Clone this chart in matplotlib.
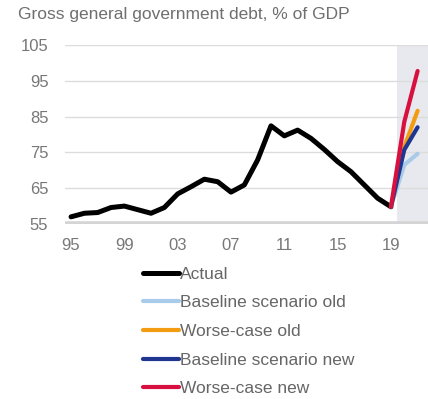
import numpy as np
import matplotlib
matplotlib.use('Agg')
import matplotlib.pyplot as plt

plt.rcParams['font.family'] = ['Liberation Sans', 'DejaVu Sans']

years_actual = [1995, 1996, 1997, 1998, 1999, 2000, 2001, 2002, 2003, 2004, 2005, 2006, 2007,
                2008, 2009, 2010, 2011, 2012, 2013, 2014, 2015, 2016, 2017, 2018, 2019]
debt_actual = [57.0, 58.0, 58.2, 59.6, 60.0, 59.0, 58.0, 59.6, 63.4, 65.4, 67.5, 66.8, 63.9,
               65.9, 72.9, 82.4, 79.6, 81.2, 78.9, 75.8, 72.4, 69.6, 65.9, 62.2, 59.8]

years_proj = [2019, 2020, 2021]
baseline_old = [59.8, 71.5, 74.6]
worse_old = [59.8, 76.5, 86.6]
baseline_new = [59.8, 75.7, 82.0]
worse_new = [59.8, 83.5, 97.7]

tick_years = [1995, 1999, 2003, 2007, 2011, 2015, 2019]
tick_labels = ['95', '99', '03', '07', '11', '15', '19']
y_ticks = [55, 65, 75, 85, 95, 105]

gray_txt = '#777777'

fig = plt.figure(figsize=(4.28, 3.99), dpi=100)
ax = fig.add_axes([0.152, 0.4386, 0.848, 0.449])

ax.axvspan(2019.45, 2022, color='#e8e9ee', zorder=0, lw=0)
for y in y_ticks[1:]:
    ax.axhline(y, color='#dcdcdc', lw=1, zorder=1)
ax.axhline(55, color='#d4d4d4', lw=4, zorder=1)

ax.plot(years_actual, debt_actual, color='black', lw=3.6, label='Actual', zorder=3,
        solid_capstyle='round')
ax.plot(years_proj, baseline_old, color='#a9cbea', lw=3, label='Baseline scenario old', zorder=4,
        solid_capstyle='round')
ax.plot(years_proj, worse_old, color='#f39c12', lw=3, label='Worse-case old', zorder=4,
        solid_capstyle='round')
ax.plot(years_proj, baseline_new, color='#1f3590', lw=3, label='Baseline scenario new', zorder=5,
        solid_capstyle='round')
ax.plot(years_proj, worse_new, color='#d8103f', lw=3, label='Worse-case new', zorder=6,
        solid_capstyle='round')

ax.set_xlim(1994.55, 2021.78)
ax.set_ylim(55, 105)
ax.set_xticks(tick_years)
ax.set_xticklabels(tick_labels)
ax.set_yticks(y_ticks)
ax.tick_params(axis='both', length=0, labelsize=12, labelcolor=gray_txt)
ax.tick_params(axis='y', pad=12)
ax.tick_params(axis='x', pad=10)
for s in ax.spines.values():
    s.set_visible(False)

fig.text(0.042, 0.963, 'Gross general government debt, % of GDP', fontsize=12.5,
         color='#6f6f6f', va='center', ha='left')

leg = fig.legend(loc='upper left', bbox_to_anchor=(0.334, 0.332), bbox_transform=fig.transFigure,
                 frameon=False, fontsize=12.5, handlelength=2.1, handletextpad=0.05,
                 labelspacing=0.78, borderpad=0, borderaxespad=0)
for t in leg.get_texts():
    t.set_color('#666666')

fig.savefig('out.png', dpi=100)
